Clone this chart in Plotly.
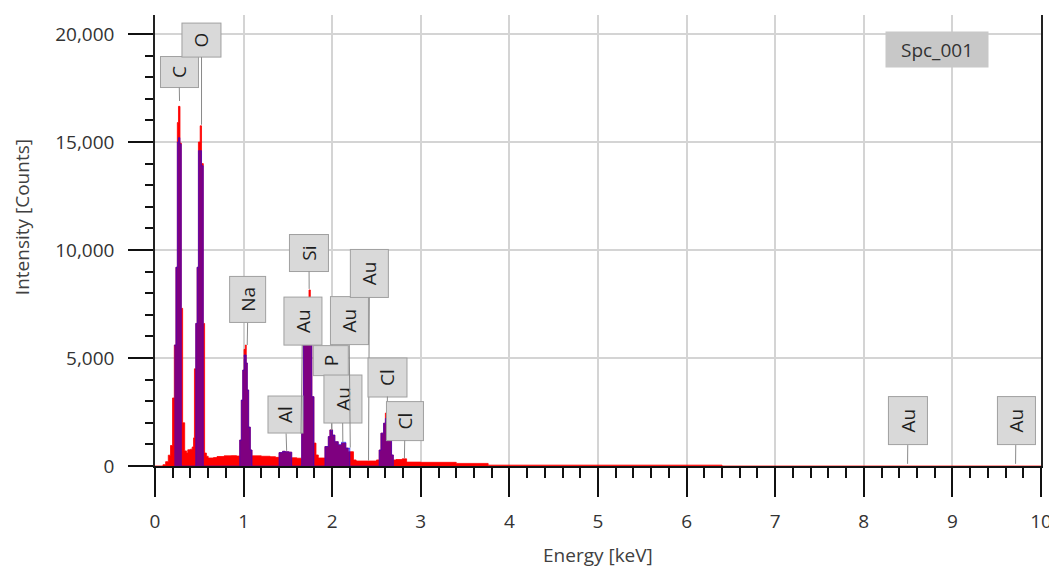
import plotly.graph_objects as go

# ---------------- data ----------------
# full spectrum (left edge of each channel step, keV) and counts
E_RED = [0.00, 0.09, 0.12, 0.15, 0.175, 0.198, 0.218, 0.236, 0.252, 0.265, 0.282, 0.297, 0.312, 0.335,
         0.355, 0.370, 0.400, 0.420, 0.435, 0.445, 0.460, 0.475, 0.490, 0.510, 0.525, 0.545, 0.560,
         0.580, 0.600, 0.660, 0.700, 0.780, 0.860, 0.920, 0.956, 0.974, 0.990, 1.005, 1.020, 1.030,
         1.042, 1.057, 1.076, 1.095, 1.200, 1.300, 1.360, 1.400, 1.440, 1.470, 1.510, 1.543, 1.600,
         1.655, 1.674, 1.689, 1.705, 1.719, 1.738, 1.753, 1.771, 1.794, 1.817, 1.843, 1.918, 1.956,
         1.974, 2.004, 2.030, 2.068, 2.105, 2.154, 2.180, 2.240, 2.270, 2.500, 2.530, 2.550, 2.580,
         2.600, 2.620, 2.640, 2.670, 2.690, 2.720, 2.790, 2.840, 3.000, 3.400, 3.760, 6.400, 10.0]
C_RED = [0, 60, 200, 500, 950, 3150, 5600, 9200, 15900, 16650, 14950, 7300, 2000, 700,
         600, 750, 780, 880, 1300, 4500, 6600, 9200, 15000, 15750, 14000, 6600, 600,
         450, 370, 390, 440, 470, 480, 460, 1200, 3050, 4440, 5400, 5600, 4770,
         3520, 1800, 740, 470, 450, 430, 400, 620, 680, 660, 640, 380, 360,
         2130, 5750, 5800, 5900, 6760, 8150, 5990, 3210, 1060, 510, 370, 900, 1360,
         1670, 1430, 1125, 970, 1060, 830, 660, 280, 230, 280, 740, 1520, 1980,
         2450, 2600, 1290, 510, 280, 300, 330, 180, 170, 120, 40, 0, 0]

# fitted peak windows (blue overlay)
E_BLUE = [0.218, 0.236, 0.252, 0.265, 0.282, 0.297,
          0.460, 0.475, 0.490, 0.510, 0.525, 0.545,
          0.956, 0.974, 0.990, 1.005, 1.020, 1.030, 1.042, 1.057, 1.076, 1.095,
          1.400, 1.440, 1.470, 1.510, 1.543,
          1.655, 1.674, 1.689, 1.719, 1.738, 1.753, 1.771, 1.794,
          1.918, 1.956, 1.974, 2.004, 2.030, 2.068, 2.105, 2.154, 2.200,
          2.530, 2.550, 2.580, 2.600, 2.620, 2.640, 2.670, 2.690]
C_BLUE = [5600, 9200, 15000, 15200, 14900, 0,
          6600, 9200, 14600, 14600, 13900, 0,
          1200, 3050, 4440, 5140, 5140, 4770, 3520, 1800, 740, 0,
          620, 680, 660, 640, 0,
          2130, 5750, 5800, 5800, 5800, 5800, 3210, 0,
          900, 1360, 1670, 1430, 1125, 1000, 1100, 830, 0,
          740, 1520, 1980, 2200, 2200, 1290, 510, 0]

# element line markers
LABELS = ["C", "O", "Na", "Al", "Si", "Au", "P", "Au", "Au", "Au", "Cl", "Cl", "Au", "Au"]
LINE_E = [0.277, 0.525, 1.041, 1.486, 1.740, 1.648, 1.994, 2.120, 2.204, 2.410, 2.622, 2.815, 8.494, 9.713]
LINE_H = [16900, 15800, 5600, 700, 8200, 1500, 1650, 1100, 850, 250, 2600, 350, 100, 100]

# label box layout (centre in data coords, box size in px: along-text, across-text)
BOX_X = [0.271, 0.525, 1.050, 1.473, 1.738, 1.665, 1.986, 2.116, 2.190, 2.420, 2.624, 2.822, 8.499, 9.718]
BOX_Y = [18240, 19720, 7690, 2360, 9860, 6710, 4900, 3100, 6710, 8910, 4120, 2080, 2080, 2080]
BOX_L = [30, 33, 45, 36, 36, 47, 29, 47, 47, 47, 38, 38, 47, 47]
BOX_W = [37, 38, 35, 34, 38, 37, 34, 37, 37, 37, 38, 36, 38, 37]

FONT = "Open Sans"

fig = go.Figure()
fig.add_trace(go.Scatter(x=E_RED, y=C_RED, mode="lines",
                         line=dict(shape="hv", color="#ff0000", width=0.8),
                         fill="tozeroy", fillcolor="#ff0000", hoverinfo="skip"))
fig.add_trace(go.Scatter(x=E_BLUE, y=C_BLUE, mode="lines",
                         line=dict(shape="hv", color="rgba(0,0,255,0.6)", width=0.8),
                         fill="tozeroy", fillcolor="rgba(0,0,255,0.5)", hoverinfo="skip"))

for lab, le, lh, bx, by, bl, bw in zip(LABELS, LINE_E, LINE_H, BOX_X, BOX_Y, BOX_L, BOX_W):
    fig.add_annotation(x=le, y=lh, ax=bx, ay=by, axref="x", ayref="y",
                       text=lab, textangle=-90, showarrow=True, arrowhead=0,
                       arrowwidth=1, arrowcolor="#8a8a8a", standoff=0, startstandoff=0,
                       bgcolor="#d9d9d9", bordercolor="#a0a0a0", borderwidth=1, borderpad=0,
                       width=bl, height=bw,
                       font=dict(family=FONT, size=19, color="#1e1e1e"))

fig.add_annotation(x=8.83, y=19300, xref="x", yref="y", text="Spc_001", showarrow=False,
                   bgcolor="#c8c8c8", width=100, height=33,
                   font=dict(family=FONT, size=19, color="#333333"))

fig.add_annotation(x=-0.150, y=0.552, xref="paper", yref="paper", text="Intensity [Counts]",
                   textangle=-90, showarrow=False, xanchor="center", yanchor="middle",
                   font=dict(family=FONT, size=19, color="#404040"))
fig.add_annotation(x=0.5, y=-0.197, xref="paper", yref="paper", text="Energy [keV]",
                   showarrow=False, xanchor="center", yanchor="middle",
                   font=dict(family=FONT, size=19, color="#404040"))

# the page places the figure 8px in from the top-left corner
fig.update_layout(
    width=1049, height=562,
    margin=dict(l=147, r=16, t=7, b=104, autoexpand=False),
    paper_bgcolor="white", plot_bgcolor="white",
    showlegend=False,
    font=dict(family=FONT, size=19, color="#333333"),
)
fig.update_xaxes(range=[0, 10], tickmode="linear", tick0=0, dtick=1, automargin=False,
                 ticks="outside", ticklen=29, tickwidth=1.5, tickcolor="#111111",
                 ticklabelstandoff=8,
                 showgrid=True, gridcolor="#d4d4d4", gridwidth=1.5,
                 showline=True, linecolor="#111111", linewidth=2,
                 zeroline=False,
                 minor=dict(dtick=0.2, ticks="outside", ticklen=10, tickwidth=1.5,
                            tickcolor="#111111", showgrid=False),
                 tickfont=dict(family=FONT, size=19, color="#333333"))
fig.update_yaxes(range=[0, 20880], tickmode="linear", tick0=0, dtick=5000, automargin=False,
                 tickformat=",d",
                 ticks="outside", ticklen=25, tickwidth=1.5, tickcolor="#111111",
                 ticklabelstandoff=10,
                 showgrid=True, gridcolor="#d4d4d4", gridwidth=1.5,
                 showline=True, linecolor="#222222", linewidth=1.5, mirror=True,
                 zeroline=False,
                 minor=dict(dtick=1000, ticks="outside", ticklen=8, tickwidth=1.5,
                            tickcolor="#111111", showgrid=False),
                 tickfont=dict(family=FONT, size=19, color="#333333"))

fig.write_html("out.html")
